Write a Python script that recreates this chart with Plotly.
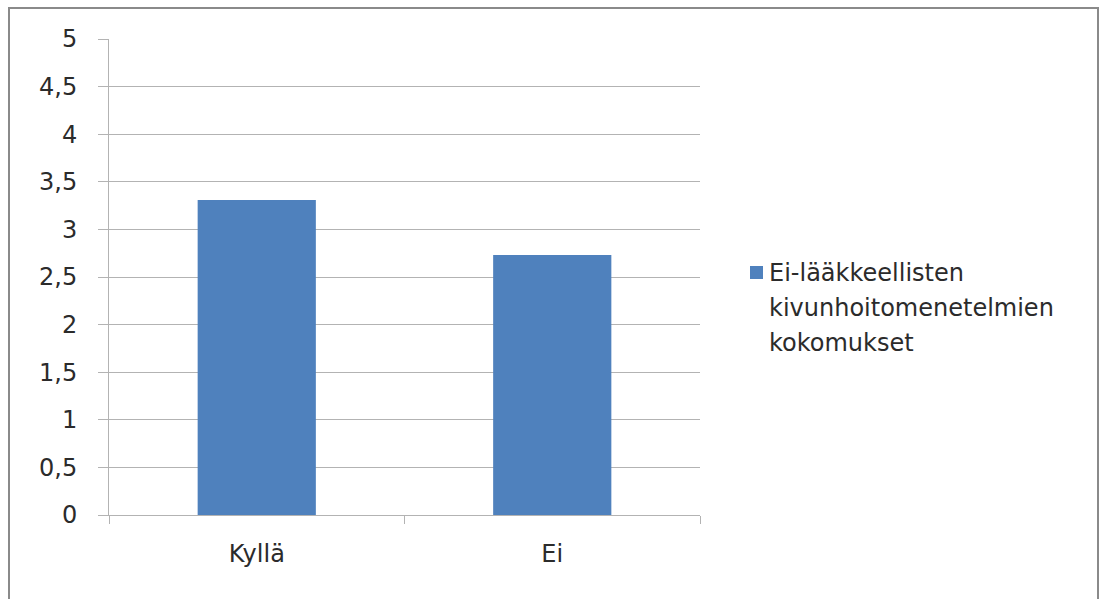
import plotly.graph_objects as go

# Data
categories = ["Kyllä", "Ei"]
values = [3.31, 2.73]
series_name_lines = ["Ei-lääkkeellisten", "kivunhoitomenetelmien", "kokomukset"]
y_tickvals = [0, 0.5, 1, 1.5, 2, 2.5, 3, 3.5, 4, 4.5, 5]
y_ticktext = ["0", "0,5", "1", "1,5", "2", "2,5", "3", "3,5", "4", "4,5", "5"]

BAR_COLOR = "#4F81BD"
TEXT_COLOR = "#2b2b2b"
GRID_COLOR = "#b3b3b3"
FONT = "DejaVu Sans, sans-serif"
FS = 24

W, H = 1100, 599
L, R, T, B = 109, 400, 39, 84
pw, ph = W - L - R, H - T - B

def px_x(x):
    return (x - L) / pw

def px_y(y):
    return (H - B - y) / ph

fig = go.Figure()
fig.add_trace(go.Bar(
    x=categories, y=values, name=" ".join(series_name_lines),
    marker=dict(color=BAR_COLOR, line=dict(width=0)),
    showlegend=False,
))

fig.update_layout(
    width=W, height=H,
    margin=dict(l=L, r=R, t=T, b=B, pad=0),
    paper_bgcolor="white", plot_bgcolor="white",
    bargap=0.6,
    font=dict(family=FONT, size=FS, color=TEXT_COLOR),
    xaxis=dict(
        type="category", showgrid=False, showline=True, linecolor=GRID_COLOR, linewidth=1,
        ticks="outside", tickson="boundaries", ticklen=8, tickcolor=GRID_COLOR,
        ticklabelstandoff=17, tickfont=dict(size=FS, color=TEXT_COLOR),
        zeroline=False,
    ),
    yaxis=dict(
        range=[0, 5], tickvals=y_tickvals, ticktext=y_ticktext,
        showgrid=True, gridcolor=GRID_COLOR, gridwidth=1,
        showline=True, linecolor=GRID_COLOR, linewidth=1,
        ticks="outside", ticklen=10, tickcolor=GRID_COLOR,
        ticklabelstandoff=16, tickfont=dict(size=FS, color=TEXT_COLOR),
        zeroline=False,
    ),
)

# Outer chart frame
fig.add_shape(type="rect", xref="paper", yref="paper",
              x0=px_x(9), x1=px_x(1098), y0=px_y(603), y1=px_y(8),
              line=dict(color="#8a8a8a", width=2), fillcolor="rgba(0,0,0,0)", layer="below")

# Legend: colour key and wrapped series name
fig.add_shape(type="rect", xref="paper", yref="paper",
              x0=px_x(750), x1=px_x(763), y0=px_y(279), y1=px_y(266),
              line=dict(width=0), fillcolor=BAR_COLOR)
for i, line in enumerate(series_name_lines):
    fig.add_annotation(
        xref="paper", yref="paper", x=px_x(767), y=px_y(273 + 35 * i),
        xanchor="left", yanchor="middle", showarrow=False,
        text=line, font=dict(family=FONT, size=FS, color=TEXT_COLOR),
    )

fig.write_html("out.html")
